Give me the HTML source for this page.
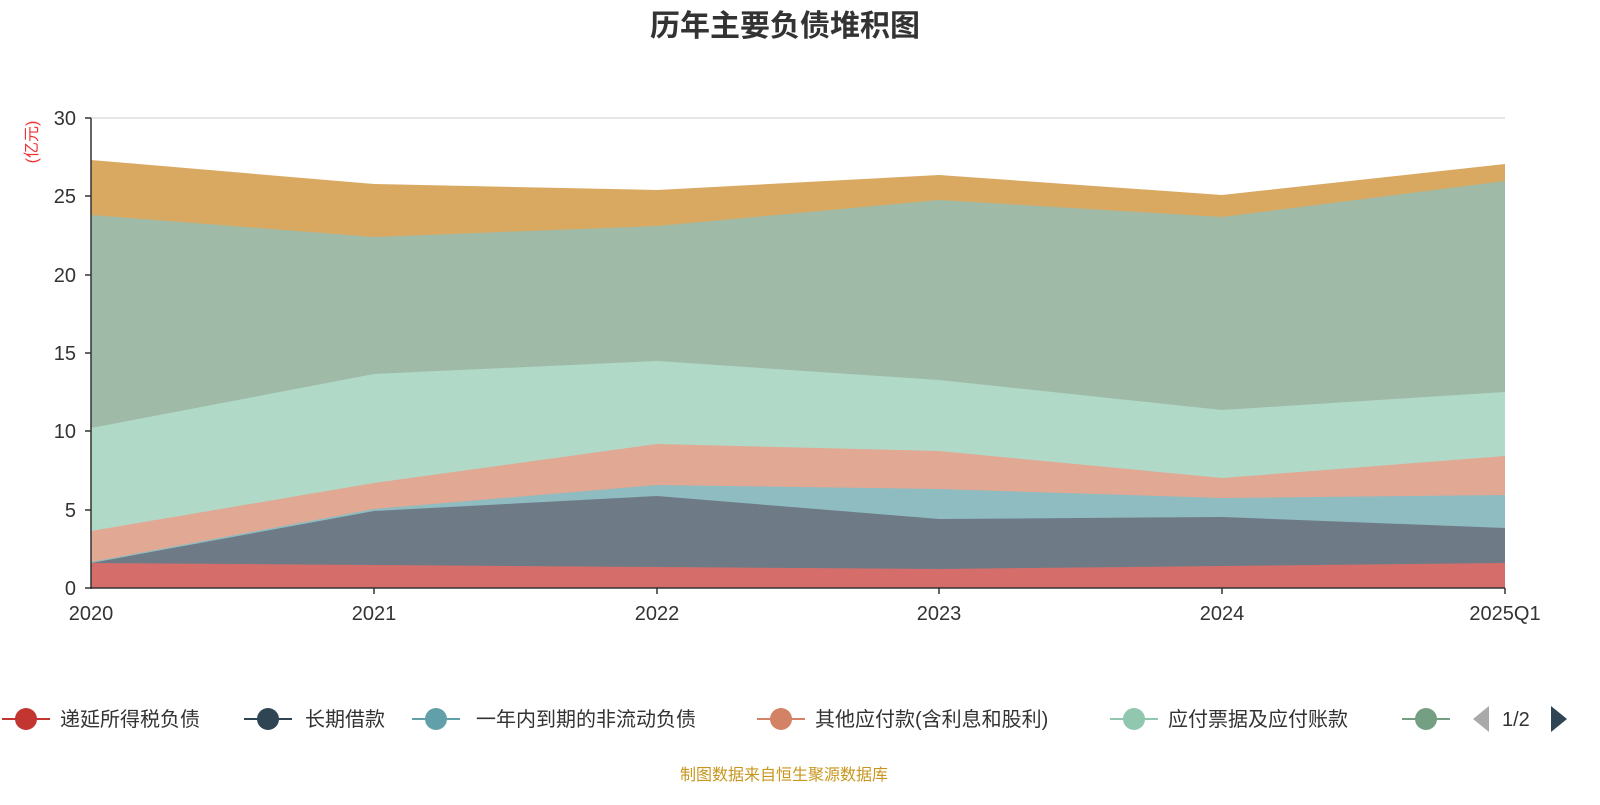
<!DOCTYPE html>
<html><head><meta charset="utf-8"><style>
body{margin:0;background:#fff;width:1600px;height:800px;overflow:hidden;font-family:"Liberation Sans","Noto Sans CJK SC",sans-serif}
</style></head><body>
<svg width="1600" height="800" xmlns="http://www.w3.org/2000/svg" font-family="Liberation Sans, Noto Sans CJK SC, sans-serif">
<text x="785" y="36" text-anchor="middle" font-size="30" font-weight="bold" fill="#333">历年主要负债堆积图</text>
<text transform="translate(37,142) rotate(-90)" text-anchor="middle" font-size="16" fill="#e33">(亿元)</text>
<g stroke="#ccc" stroke-width="1">
<line x1="91" y1="118" x2="1505" y2="118"/><line x1="91" y1="196" x2="1505" y2="196"/><line x1="91" y1="275" x2="1505" y2="275"/><line x1="91" y1="353" x2="1505" y2="353"/><line x1="91" y1="431" x2="1505" y2="431"/><line x1="91" y1="510" x2="1505" y2="510"/>
</g>
<g fill-opacity="1">
<polygon fill="#d9a962" points="91,160 374,184 657,190 939,175 1222,195 1505,164 1505,588 91,588"/>
<polygon fill="#9fbba8" points="91,215 374,237 657,226 939,200 1222,217 1505,181 1505,588 91,588"/>
<polygon fill="#b1d9c8" points="91,428 374,374 657,361 939,380 1222,410 1505,392 1505,588 91,588"/>
<polygon fill="#e1a893" points="91,531 374,483 657,444 939,451 1222,478 1505,456 1505,588 91,588"/>
<polygon fill="#8fbcc1" points="91,562 374,509 657,485 939,489 1222,498 1505,495 1505,588 91,588"/>
<polygon fill="#6e7b87" points="91,563 374,511 657,496 939,519 1222,517 1505,528 1505,588 91,588"/>
<polygon fill="#d56e6b" points="91,563 374,565 657,567 939,569 1222,566 1505,563 1505,588 91,588"/>
</g>
<g stroke="#333" stroke-width="1.5">
<line x1="91" y1="118" x2="91" y2="589"/><line x1="91" y1="588" x2="1505" y2="588"/>
<line x1="85" y1="118" x2="91" y2="118"/><line x1="85" y1="196" x2="91" y2="196"/><line x1="85" y1="275" x2="91" y2="275"/><line x1="85" y1="353" x2="91" y2="353"/><line x1="85" y1="431" x2="91" y2="431"/><line x1="85" y1="510" x2="91" y2="510"/><line x1="85" y1="588" x2="91" y2="588"/>
<line x1="374" y1="588" x2="374" y2="594"/><line x1="657" y1="588" x2="657" y2="594"/><line x1="939" y1="588" x2="939" y2="594"/><line x1="1222" y1="588" x2="1222" y2="594"/><line x1="1505" y1="588" x2="1505" y2="594"/>
</g>
<g font-size="20" fill="#333" text-anchor="end">
<text x="76" y="125">30</text><text x="76" y="203">25</text><text x="76" y="282">20</text><text x="76" y="360">15</text><text x="76" y="438">10</text><text x="76" y="517">5</text><text x="76" y="595">0</text>
</g>
<g font-size="20" fill="#333" text-anchor="middle">
<text x="91" y="620">2020</text><text x="374" y="620">2021</text><text x="657" y="620">2022</text><text x="939" y="620">2023</text><text x="1222" y="620">2024</text><text x="1505" y="620">2025Q1</text>
</g>
<g font-size="20" fill="#333">
<line x1="2" y1="719" x2="50" y2="719" stroke="#c23531" stroke-width="2"/><circle cx="26" cy="719" r="11" fill="#c23531"/><text x="60" y="726">递延所得税负债</text>
<line x1="244" y1="719" x2="292" y2="719" stroke="#2f4554" stroke-width="2"/><circle cx="268" cy="719" r="11" fill="#2f4554"/><text x="305" y="726">长期借款</text>
<line x1="412" y1="719" x2="460" y2="719" stroke="#61a0a8" stroke-width="2"/><circle cx="436" cy="719" r="11" fill="#61a0a8"/><text x="476" y="726">一年内到期的非流动负债</text>
<line x1="757" y1="719" x2="805" y2="719" stroke="#d48265" stroke-width="2"/><circle cx="781" cy="719" r="11" fill="#d48265"/><text x="815" y="726">其他应付款(含利息和股利)</text>
<line x1="1110" y1="719" x2="1158" y2="719" stroke="#91c7ae" stroke-width="2"/><circle cx="1134" cy="719" r="11" fill="#91c7ae"/><text x="1168" y="726">应付票据及应付账款</text>
<line x1="1402" y1="719" x2="1450" y2="719" stroke="#749f83" stroke-width="2"/><circle cx="1426" cy="719" r="11" fill="#749f83"/>
<polygon points="1489,706 1489,732 1473,719" fill="#aaa"/>
<text x="1502" y="726">1/2</text>
<polygon points="1551,706 1551,732 1567,719" fill="#2f4554"/>
</g>
<text x="784" y="780" text-anchor="middle" font-size="16" fill="#c8961e">制图数据来自恒生聚源数据库</text>
</svg>
</body></html>
